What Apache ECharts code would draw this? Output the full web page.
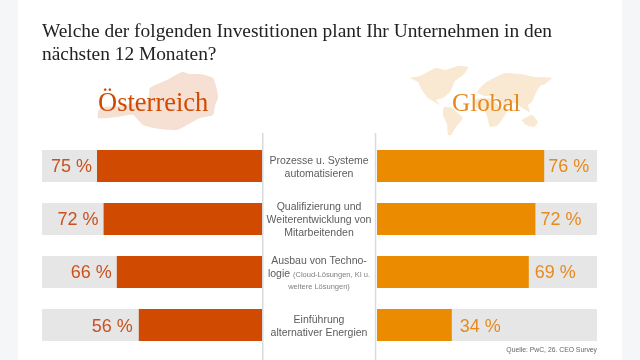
<!DOCTYPE html>
<html><head><meta charset="utf-8">
<style>html,body{margin:0;padding:0;background:#fff}#c{width:640px;height:360px}</style>
<script src="https://cdn.jsdelivr.net/npm/echarts@6/dist/echarts.min.js"></script>
</head><body><div id="c"></div>
<script>
const categories = [
  "Prozesse u. Systeme\nautomatisieren",
  "Qualifizierung und\nWeiterentwicklung von\nMitarbeitenden",
  "Ausbau von Techno-\nlogie {s|(Cloud-Lösungen, KI u.}\n{s|weitere Lösungen)}",
  "Einführung\nalternativer Energien"
];
const austria = [75, 72, 66, 56];
const global = [76, 72, 69, 34];
const titleText = "Welche der folgenden Investitionen plant Ihr Unternehmen in den\nnächsten 12 Monaten?";
const sourceText = "Quelle: PwC, 26. CEO Survey";

const ORANGE_DARK = "#d04a02", ORANGE = "#eb8c00", TRACK = "#e6e6e6";
const SANS = '"Liberation Sans", Arial, sans-serif', SERIF = '"Liberation Serif", serif';

const austriaShape = [[182,72],[190,74],[200,74],[213,78],[216,86],[218,97],[215,106],[213,115],[200,118],[187,125],[177,130],[160,129],[143,125],[133,115],[117,117],[98,118],[100,108],[120,106],[135,103],[148,100],[150,88],[167,80]];
const worldShapes = [
  [[410,78],[420,76],[436,68],[445,70],[452,68],[466,68],[463,75],[455,81],[450,92],[443,98],[436,100],[440,105],[436,103],[428,98],[422,90],[418,82]],
  [[448,70],[458,66],[468,67],[465,73],[456,78]],
  [[444,107],[452,108],[458,113],[463,118],[456,127],[451,135],[448,135],[447,124],[443,115]],
  [[477,92],[484,84],[490,80],[505,73],[520,74],[535,77],[552,78],[545,84],[540,86],[535,95],[532,102],[528,105],[530,112],[522,108],[516,103],[510,104],[505,108],[500,100],[492,96],[484,96]],
  [[475,100],[482,98],[492,99],[499,106],[507,110],[505,115],[498,125],[490,127],[487,116],[484,110],[476,108]],
  [[522,120],[532,115],[538,122],[534,127],[526,125]]
];

const labelStyle = (position, distance, offsetY, color) => ({ show: true, position, distance, offset: [0, offsetY], formatter: "{c} %", fontFamily: SANS, fontSize: 18, color });
const austriaGaps = [5, 5, 5, 6], globalGaps = [4, 5, 6, 8], rowShift = [1, 1, 1, 2];

const option = {
  animation: false,
  backgroundColor: "#fff",
  title: [
    { text: titleText, left: 42, top: 20, padding: 0, textStyle: { fontFamily: SERIF, fontSize: 19.4, fontWeight: "normal", color: "#222", lineHeight: 23 } },
    { text: "Österreich", left: 98, top: 91, padding: 0, textStyle: { fontFamily: SERIF, fontSize: 26.5, fontWeight: "normal", color: ORANGE_DARK } },
    { text: "Global", left: 452, top: 92, padding: 0, textStyle: { fontFamily: SERIF, fontSize: 25.2, fontWeight: "normal", color: "#e68a1e" } }
  ],
  grid: [
    { left: 42, top: 139.5, width: 220, height: 212 },
    { left: 377, top: 139.5, width: 220, height: 212 }
  ],
  xAxis: [
    { gridIndex: 0, type: "value", min: 0, max: 100, inverse: true, show: false },
    { gridIndex: 1, type: "value", min: 0, max: 100, show: false }
  ],
  yAxis: [
    { gridIndex: 0, type: "category", inverse: true, position: "right", data: categories,
      axisLine: { show: false }, axisTick: { show: false },
      axisLabel: { align: "center", margin: 57, padding: [3, 0, 0, 0], fontFamily: SANS, fontSize: 10.5, lineHeight: 13, color: "#5c5c5c",
        rich: { s: { fontFamily: SANS, fontSize: 7.5, lineHeight: 11, color: "#808080" } } } },
    { gridIndex: 1, type: "category", inverse: true, data: categories, show: false }
  ],
  series: [
    { type: "bar", xAxisIndex: 0, yAxisIndex: 0, barWidth: 32,
      data: austria.map((v, i) => ({ value: v, label: labelStyle("left", austriaGaps[i], rowShift[i], "#c8511f") })),
      showBackground: true, backgroundStyle: { color: TRACK }, itemStyle: { color: ORANGE_DARK } },
    { type: "bar", xAxisIndex: 1, yAxisIndex: 1, barWidth: 32,
      data: global.map((v, i) => ({ value: v, label: labelStyle("right", globalGaps[i], rowShift[i], "#e68a1e") })),
      showBackground: true, backgroundStyle: { color: TRACK }, itemStyle: { color: ORANGE } }
  ],
  graphic: [
    { type: "rect", silent: true, z: -10, shape: { x: 0, y: 0, width: 18, height: 360 }, style: { fill: "#f5f6f8" } },
    { type: "rect", silent: true, z: -10, shape: { x: 622, y: 0, width: 18, height: 360 }, style: { fill: "#f5f6f8" } },
    { type: "polygon", silent: true, z: -5, shape: { points: austriaShape, smooth: 0.2 }, style: { fill: "#f6dfd3" } },
    ...worldShapes.map(p => ({ type: "polygon", silent: true, z: -5, shape: { points: p, smooth: 0.15 }, style: { fill: "#f9e8d2" } })),
    { type: "rect", silent: true, z: -1, shape: { x: 262, y: 133, width: 1.5, height: 227 }, style: { fill: "#d6d9de" } },
    { type: "rect", silent: true, z: -1, shape: { x: 374.8, y: 133, width: 1.5, height: 227 }, style: { fill: "#d6d9de" } },
    { type: "text", silent: true, style: { x: 597, y: 347, text: sourceText, align: "right", fontFamily: SANS, fontSize: 6.8, fill: "#666" } }
  ]
};
echarts.init(document.getElementById("c"), null, { renderer: "canvas" }).setOption(option);
</script></body></html>
